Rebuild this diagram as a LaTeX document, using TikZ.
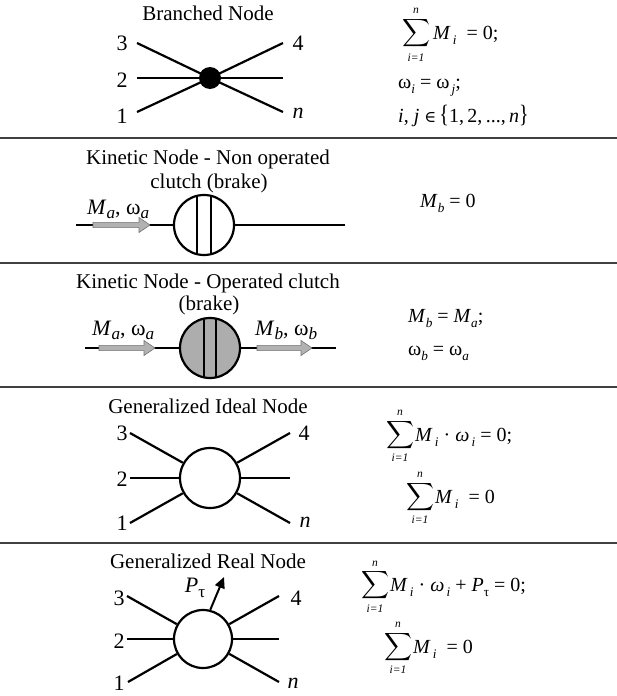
\documentclass[tikz,border=0pt]{standalone}
\usepackage{fontspec}
\setmainfont{Liberation Serif}
\newfontfamily\dvs{DejaVu Serif}
\usepackage{graphicx}
\usetikzlibrary{arrows.meta}
\tikzset{
  sepline/.style={line width=2pt, draw=black!75},
  wire/.style={line width=2.2pt},
  title/.style={font=\fontsize{21}{24}\selectfont, inner sep=0},
  lbl/.style={font=\fontsize{22}{24}\selectfont, inner sep=0},
  eq/.style={font=\fontsize{20}{22}\selectfont, inner sep=0, anchor=base west},
  albl/.style={font=\fontsize{22}{24}\selectfont, inner sep=0, anchor=base west},
  lim/.style={font=\fontsize{11.5}{12}\selectfont\itshape, inner sep=0},
  sumsign/.style={inner sep=0},
  ring/.style={circle, draw, line width=2.2pt, minimum size=60pt, inner sep=0, fill=white},
  dot/.style={circle, fill=black, minimum size=22pt, inner sep=0},
  garrow/.style={fill=black!30, draw=black!55, line width=0.6pt},
  chord/.style={line width=2.2pt},
  parrow/.style={line width=2pt, -{Triangle[length=11pt,width=10pt]}},
}
\newcommand\bigsum{\resizebox*{!}{31pt}{$\displaystyle\sum$}}
\newcommand\grayarr[3]{%
  \filldraw[garrow] (#1,#3-2.6) -- (#2-11,#3-2.6) -- (#2-11,#3-7.5) -- (#2,#3) -- (#2-11,#3+7.5) -- (#2-11,#3+2.6) -- (#1,#3+2.6) -- cycle;}
\newcommand\sub[1]{\raisebox{-0.28em}{\scalebox{0.66}{#1}}}
\newcommand\asub[1]{\raisebox{-0.2em}{\scalebox{0.78}{#1}}}
\begin{document}
\begin{tikzpicture}[x=1pt,y=-1pt]
\path[use as bounding box, fill=white] (0,0) rectangle (617,696);

% separators
\draw[sepline] (0,138) -- (617,138);
\draw[sepline] (0,263) -- (617,263);
\draw[sepline] (0,387) -- (617,387);
\draw[sepline] (0,543) -- (617,543);

% ===== Row 1: Branched node
\node[title] (t1) at (208,13) {Branched Node};
\node[dot] (d1) at (210,78) {};
\coordinate (a3) at (137,43);
\coordinate (a4) at (283,43);
\coordinate (a2) at (137,78);
\coordinate (a2r) at (283,78);
\coordinate (a1) at (137,112);
\coordinate (an) at (283,112);
\draw[wire] (a3) -- (d1.center) -- (an);
\draw[wire] (a1) -- (d1.center) -- (a4);
\draw[wire] (a2) -- (a2r);
\node[lbl] (l13) at (122,43) {3};
\node[lbl] (l14) at (298,43) {4};
\node[lbl] (l12) at (122,80) {2};
\node[lbl] (l11) at (122,116) {1};
\node[lbl] (l1n) at (298,113) {\textit{n}};
% equations
\node[sumsign] (s1) at (416,33) {\bigsum};
\node[lim] (s1n) at (416,11) {n};
\node[lim] (s1i) at (416,58) {i=1};
\node[eq] (e11) at (433,39) {\textit{M}\sub{\,\textit{i}}\ \ = 0;};
\node[eq] (e12) at (398,88) {ω\sub{\textit{i}} = ω\sub{\,\textit{j}};};
\node[eq] (e13) at (398,122) {\textit{i}, \textit{j} {\dvs\fontsize{16}{18}\selectfont ∈}\,\scalebox{1}[1.25]{\{}1,\,2,\,...,\,\textit{n}\scalebox{1}[1.25]{\}}};

% ===== Row 2: Non operated clutch
\node[title] (t2a) at (208,159) {Kinetic Node - Non operated};
\node[title] (t2b) at (209,183) {clutch (brake)};
\coordinate (b0) at (76,225);
\coordinate (b1) at (345,225);
\draw[wire] (b0) -- (b1);
\node[ring] (c2) at (204,225) {};
\begin{scope}
  \clip (204,225) circle (30pt);
  \draw[chord] (197,190) -- (197,260);
  \draw[chord] (211,190) -- (211,260);
\end{scope}
\grayarr{93}{150}{225}
\node[albl] (m2) at (87,214) {\textit{M}\asub{\textit{a}}, ω\asub{\textit{a}}};
\node[eq] (e21) at (420,207) {\textit{M}\sub{\textit{b}} = 0};

% ===== Row 3: Operated clutch
\node[title] (t3a) at (208,283) {Kinetic Node - Operated clutch};
\node[title] (t3b) at (209,305) {(brake)};
\coordinate (k0) at (85,348);
\coordinate (k1) at (336,348);
\draw[wire] (k0) -- (k1);
\node[ring, fill=black!32] (c3) at (210,348) {};
\begin{scope}
  \clip (210,348) circle (30pt);
  \draw[chord] (204,310) -- (204,390);
  \draw[chord] (216,310) -- (216,390);
\end{scope}
\grayarr{99}{155}{348}
\grayarr{257}{312}{348}
\node[albl] (m3a) at (92,335) {\textit{M}\asub{\textit{a}}, ω\asub{\textit{a}}};
\node[albl] (m3b) at (255,335) {\textit{M}\asub{\textit{b}}, ω\asub{\textit{b}}};
\node[eq] (e31) at (408,322) {\textit{M}\sub{\textit{b}} = \textit{M}\sub{\textit{a}};};
\node[eq] (e32) at (408,355) {ω\sub{\textit{b}} = ω\sub{\textit{a}}};

% ===== Row 4: Generalized ideal node
\node[title] (t4) at (208,406) {Generalized Ideal Node};
\node[ring] (c4) at (210,478) {};
\coordinate (g3) at (130,433);
\coordinate (g4) at (290,433);
\coordinate (g2) at (130,478);
\coordinate (g2r) at (290,478);
\coordinate (g1) at (130,523);
\coordinate (gn) at (290,523);
\draw[wire] (g3) -- (c4);
\draw[wire] (g4) -- (c4);
\draw[wire] (g2) -- (c4);
\draw[wire] (g2r) -- (c4);
\draw[wire] (g1) -- (c4);
\draw[wire] (gn) -- (c4);
\node[lbl] (l43) at (122,433) {3};
\node[lbl] (l44) at (304,433) {4};
\node[lbl] (l42) at (122,479) {2};
\node[lbl] (l41) at (122,523) {1};
\node[lbl] (l4n) at (305,522) {\textit{n}};
\node[sumsign] (s4a) at (400,435) {\bigsum};
\node[lim] (s4an) at (400,413) {n};
\node[lim] (s4ai) at (400,458) {i=1};
\node[eq] (e41) at (415,441) {\textit{M}\sub{\,\textit{i}} · \textit{ω}\sub{\,\textit{i}} = 0;};
\node[sumsign] (s4b) at (420,497) {\bigsum};
\node[lim] (s4bn) at (420,475) {n};
\node[lim] (s4bi) at (420,520) {i=1};
\node[eq] (e42) at (435,503) {\textit{M}\sub{\,\textit{i}}\ \ = 0};

% ===== Row 5: Generalized real node
\node[title] (t5) at (208,561) {Generalized Real Node};
\node[ring, minimum size=58pt] (c5) at (203,639) {};
\coordinate (h3) at (127,596);
\coordinate (h4) at (279,596);
\coordinate (h2) at (127,639);
\coordinate (h2r) at (279,639);
\coordinate (h1) at (128,682);
\coordinate (hn) at (279,682);
\draw[wire] (h3) -- (c5);
\draw[wire] (h4) -- (c5);
\draw[wire] (h2) -- (c5);
\draw[wire] (h2r) -- (c5);
\draw[wire] (h1) -- (c5);
\draw[wire] (hn) -- (c5);
\coordinate (ptip) at (224,577);
\draw[parrow] (c5.76) -- (ptip);
\node[albl, anchor=center] (pt) at (195,588) {\textit{P}\asub{τ}};
\node[lbl] (l53) at (119,598) {3};
\node[lbl] (l54) at (296,598) {4};
\node[lbl] (l52) at (119,641) {2};
\node[lbl] (l51) at (119,683) {1};
\node[lbl] (l5n) at (293,683) {\textit{n}};
\node[sumsign] (s5a) at (375,585) {\bigsum};
\node[lim] (s5an) at (375,564) {n};
\node[lim] (s5ai) at (375,609) {i=1};
\node[eq] (e51) at (390,591) {\textit{M}\sub{\,\textit{i}} · \textit{ω}\sub{\,\textit{i}} + \textit{P}\sub{τ} = 0;};
\node[sumsign] (s5b) at (398,647) {\bigsum};
\node[lim] (s5bn) at (398,625) {n};
\node[lim] (s5bi) at (398,670) {i=1};
\node[eq] (e52) at (413,653) {\textit{M}\sub{\,\textit{i}}\ \ = 0};
\end{tikzpicture}
\end{document}
